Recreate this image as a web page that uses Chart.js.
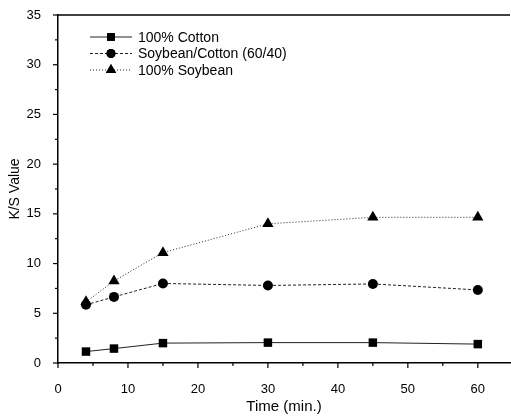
<!DOCTYPE html>
<html>
<head>
<meta charset="utf-8">
<script src="https://cdn.jsdelivr.net/npm/chart.js@4/dist/chart.umd.min.js"></script>
<style>
  html, body { margin: 0; padding: 0; background: #fff; overflow: hidden; }
  canvas { display: block; }
</style>
</head>
<body>
<canvas id="myChart" width="511" height="419"></canvas>
<script>
// data
const timeMin = [4, 8, 15, 30, 45, 60];
const cotton = [1.15, 1.45, 2.0, 2.05, 2.05, 1.9];
const blend = [5.85, 6.65, 8.0, 7.8, 7.95, 7.35];
const soybean = [6.15, 8.25, 11.1, 14.0, 14.65, 14.65];
const seriesNames = ['100% Cotton', 'Soybean/Cotton (60/40)', '100% Soybean'];
const xTicks = [0, 10, 20, 30, 40, 50, 60];
const yTicks = [0, 5, 10, 15, 20, 25, 30, 35];

const FONT = '"Liberation Sans", Arial, sans-serif';
const styles = [
    { point: 'rect', r: 6, dash: [] },
    { point: 'circle', r: 5, dash: [3, 2] },
    { point: 'triangle', r: 6.5, dash: [1, 2] }
];

function pts(ys) {
    return timeMin.map((x, i) => ({ x: x, y: ys[i] }));
}

// axis decorations: minor/major ticks, top frame line, legend
const decor = {
    id: 'decor',
    afterDraw(chart) {
        const ctx = chart.ctx;
        const xs = chart.scales.x, ys = chart.scales.y;
        const area = chart.chartArea;
        ctx.save();
        ctx.strokeStyle = '#000';
        ctx.lineWidth = 1.5;
        // top frame
        ctx.beginPath();
        ctx.moveTo(area.left, area.top);
        ctx.lineTo(area.right, area.top);
        ctx.stroke();
        ctx.lineWidth = 1.2;
        // x ticks
        for (let v = 0; v <= 60; v += 5) {
            const px = xs.getPixelForValue(v);
            const len = v % 10 === 0 ? 5 : 3;
            ctx.beginPath();
            ctx.moveTo(px, area.bottom);
            ctx.lineTo(px, area.bottom + len);
            ctx.stroke();
        }
        // y ticks
        for (let v = 0; v <= 35; v += 2.5) {
            const py = ys.getPixelForValue(v);
            const len = v % 5 === 0 ? 5 : 3;
            ctx.beginPath();
            ctx.moveTo(area.left, py);
            ctx.lineTo(area.left - len, py);
            ctx.stroke();
        }
        // legend
        ctx.font = '14px ' + FONT;
        ctx.textBaseline = 'middle';
        ctx.textAlign = 'left';
        chart.data.datasets.forEach((ds, i) => {
            const y = 37 + i * 16.5;
            ctx.strokeStyle = '#222';
            ctx.lineWidth = 1;
            ctx.setLineDash(styles[i].dash);
            ctx.beginPath();
            ctx.moveTo(90, y);
            ctx.lineTo(132, y);
            ctx.stroke();
            ctx.setLineDash([]);
            ctx.fillStyle = '#000';
            Chart.helpers.drawPoint(ctx, { pointStyle: styles[i].point, radius: styles[i].r - 0.5, borderWidth: 0 }, 111, y);
            ctx.fill();
            ctx.fillText(ds.label, 138, y + 1);
        });
        ctx.restore();
    }
};

const chart = new Chart(document.getElementById('myChart'), {
    type: 'line',
    data: {
        datasets: [cotton, blend, soybean].map((ys, i) => ({
            label: seriesNames[i],
            data: pts(ys),
            borderColor: '#222',
            borderWidth: 1,
            borderDash: styles[i].dash,
            pointStyle: styles[i].point,
            pointRadius: styles[i].r,
            pointBackgroundColor: '#000',
            pointBorderColor: '#000',
            pointBorderWidth: 0,
            tension: 0,
            fill: false
        }))
    },
    options: {
        responsive: false,
        animation: false,
        layout: { autoPadding: false, padding: { top: 15, right: 1, left: 0, bottom: 0 } },
        plugins: { legend: { display: false }, tooltip: { enabled: false } },
        scales: {
            x: {
                type: 'linear',
                min: 0,
                max: 64.6,
                afterBuildTicks: s => { s.ticks = xTicks.map(v => ({ value: v })); },
                afterFit: s => { s.height = 56; s.paddingLeft = 0; s.paddingRight = 0; },
                grid: { display: false },
                border: { display: true, color: '#000', width: 1.5 },
                ticks: { color: '#000', font: { family: FONT, size: 13 }, padding: 11, maxRotation: 0 },
                title: { display: true, text: 'Time (min.)', color: '#000', font: { family: FONT, size: 15 }, padding: { top: 0, bottom: 3 } }
            },
            y: {
                min: 0,
                max: 35,
                afterBuildTicks: s => { s.ticks = yTicks.map(v => ({ value: v })); },
                afterFit: s => { s.width = 58; s.paddingTop = 0; s.paddingBottom = 0; },
                grid: { display: false },
                border: { display: true, color: '#000', width: 1.5 },
                ticks: { color: '#000', font: { family: FONT, size: 13 }, padding: 9 },
                title: { display: true, text: 'K/S Value', color: '#000', font: { family: FONT, size: 14 }, padding: { top: 7, bottom: 0 } }
            }
        }
    },
    plugins: [decor]
});
</script>
</body>
</html>
